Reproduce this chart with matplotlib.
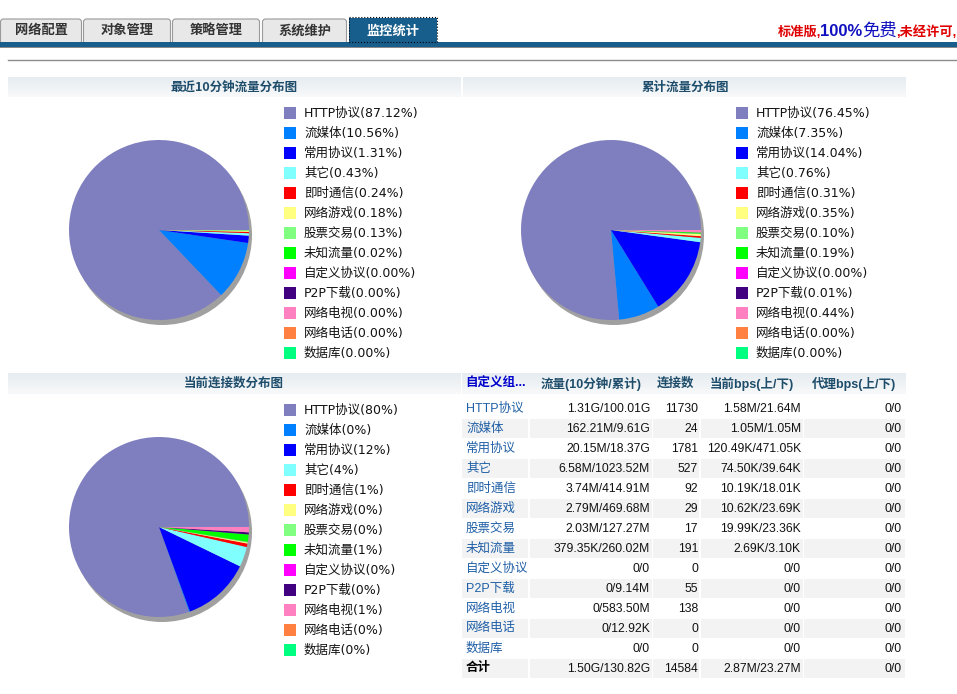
import numpy as np
import matplotlib
matplotlib.use("Agg")
import matplotlib.pyplot as plt
from matplotlib.patches import Rectangle, FancyBboxPatch, Circle

# ---------------- data ----------------
tabs = ["网络配置", "对象管理", "策略管理", "系统维护", "监控统计"]
categories = ["HTTP协议", "流媒体", "常用协议", "其它", "即时通信", "网络游戏", "股票交易",
              "未知流量", "自定义协议", "P2P下载", "网络电视", "网络电话", "数据库"]
colors = ["#7f7fbf", "#0080ff", "#0000ff", "#80ffff", "#ff0000", "#ffff80", "#80ff80",
          "#00ff00", "#ff00ff", "#400080", "#ff80c0", "#ff8040", "#00ff80"]
pct_recent = [87.12, 10.56, 1.31, 0.43, 0.24, 0.18, 0.13, 0.02, 0.00, 0.00, 0.00, 0.00, 0.00]
pct_total = [76.45, 7.35, 14.04, 0.76, 0.31, 0.35, 0.10, 0.19, 0.00, 0.01, 0.44, 0.00, 0.00]
conn_counts = [11730, 24, 1781, 527, 92, 29, 17, 191, 0, 55, 138, 0, 0]
flow_10min_total = ["1.31G/100.01G", "162.21M/9.61G", "20.15M/18.37G", "6.58M/1023.52M",
                    "3.74M/414.91M", "2.79M/469.68M", "2.03M/127.27M", "379.35K/260.02M",
                    "0/0", "0/9.14M", "0/583.50M", "0/12.92K", "0/0"]
bps_up_down = ["1.58M/21.64M", "1.05M/1.05M", "120.49K/471.05K", "74.50K/39.64K",
               "10.19K/18.01K", "10.62K/23.69K", "19.99K/23.36K", "2.69K/3.10K",
               "0/0", "0/0", "0/0", "0/0", "0/0"]
proxy_bps = ["0/0"] * 13
total_row = ["合计", "1.50G/130.82G", "14584", "2.87M/23.27M", "0/0"]
table_headers = ["自定义组...", "流量(10分钟/累计)", "连接数", "当前bps(上/下)", "代理bps(上/下)"]
chart_titles = ["最近10分钟流量分布图", "累计流量分布图", "当前连接数分布图"]

# ---------------- fonts ----------------
CJK = "Noto Sans CJK SC"
LEG_FONT = ["DejaVu Sans", CJK]
TAB_FONT = ["Liberation Sans", CJK]
plt.rcParams["font.family"] = ["DejaVu Sans", CJK]

W, H = 957, 694
fig = plt.figure(figsize=(W / 100, H / 100), dpi=100)
fig.patch.set_facecolor("white")
ax = fig.add_axes([0, 0, 1, 1])
ax.set_xlim(0, W)
ax.set_ylim(H, 0)
ax.axis("off")

TEAL = "#1e4d6b"
BLUE_BAR = "#175e8c"


def gradient_band(x0, x1, y0, y1, top="#e6ecf0", bottom="#f8f9fa"):
    c0 = np.array(matplotlib.colors.to_rgb(top))
    c1 = np.array(matplotlib.colors.to_rgb(bottom))
    t = np.linspace(0, 1, 32)[:, None, None]
    img = c0 * (1 - t) + c1 * t
    ax.imshow(img, extent=(x0, x1, y1, y0), aspect="auto", origin="upper",
              interpolation="bilinear", zorder=1)


# ---------------- tabs ----------------
tab_x = [(0, 82), (83, 171), (172, 260), (262, 347), (349, 437)]
for i, (lbl, (x0, x1)) in enumerate(zip(tabs, tab_x)):
    active = i == len(tabs) - 1
    if active:
        ax.add_patch(Rectangle((x0, 18), x1 - x0, 26, facecolor=BLUE_BAR,
                               edgecolor="none", zorder=2))
        ax.add_patch(Rectangle((x0, 17), x1 - x0, 25, facecolor="none",
                               edgecolor="black", lw=0.8, ls=":", zorder=4))
        ax.text((x0 + x1) / 2, 31, lbl, color="white", fontsize=9.5, fontweight="bold",
                ha="center", va="center", family=TAB_FONT, zorder=5)
    else:
        ax.add_patch(FancyBboxPatch((x0 + 0.5, 19), x1 - x0 - 1, 28,
                                    boxstyle="round,pad=0,rounding_size=3",
                                    facecolor="#e8e8e8", edgecolor="#9a9a9a", lw=0.8, zorder=2))
        ax.text((x0 + x1) / 2, 31, lbl, color="#333333", fontsize=9.5, fontweight="bold",
                ha="center", va="center", family=TAB_FONT, zorder=5)

ax.add_patch(Rectangle((0, 42), W, 4.5, facecolor=BLUE_BAR, edgecolor="none", zorder=3))
ax.add_patch(Rectangle((0, 46.5), W, 1.5, facecolor="#8a8a8a", edgecolor="none", zorder=3))
ax.plot([8, W], [60, 60], color="#8c8c8c", lw=1, zorder=3)

# top-right notice
ax.text(778, 32, "标准版,", color="#e00000", fontsize=9.5, fontweight="bold",
        ha="left", va="center", family=TAB_FONT, zorder=5)
ax.text(820, 31, "100%", color="#1010c0", fontsize=12, fontweight="bold",
        ha="left", va="center", family=TAB_FONT, zorder=5)
ax.text(862, 31, "免费", color="#1010c0", fontsize=12.5,
        ha="left", va="center", family=TAB_FONT, zorder=5)
ax.text(896, 32, ",未经许可,", color="#e00000", fontsize=9.5, fontweight="bold",
        ha="left", va="center", family=TAB_FONT, zorder=5)

# ---------------- section headers ----------------
gradient_band(8, 461, 77, 97)
gradient_band(463, 906, 77, 97)
gradient_band(8, 461, 373, 394)
ax.text(234, 87, chart_titles[0], color=TEAL, fontsize=9, fontweight="bold",
        ha="center", va="center", family=[CJK], zorder=5)
ax.text(685, 87, chart_titles[1], color=TEAL, fontsize=9, fontweight="bold",
        ha="center", va="center", family=[CJK], zorder=5)
ax.text(234, 383, chart_titles[2], color=TEAL, fontsize=9, fontweight="bold",
        ha="center", va="center", family=[CJK], zorder=5)


# ---------------- pies ----------------
def draw_pie(values, cx, cy, r=90, dx=3, dy=5):
    pad = 10
    R = r + pad
    pax = fig.add_axes([(cx - R) / W, 1 - (cy + R) / H, 2 * R / W, 2 * R / H])
    lim = R / r
    pax.set_xlim(-lim, lim)
    pax.set_ylim(-lim, lim)
    pax.set_aspect("equal")
    pax.axis("off")
    pax.add_patch(Circle((dx / r, -dy / r), 1.0, facecolor="#a0a0a0", edgecolor="none", zorder=0))
    vals = [v if v > 0 else 0.0 for v in values]
    pax.pie(vals, colors=colors, startangle=0, counterclock=True, radius=1.0,
            wedgeprops=dict(linewidth=0), frame=True)
    pax.set_xlim(-lim, lim)
    pax.set_ylim(-lim, lim)
    pax.axis("off")


draw_pie(pct_recent, 159, 230)
draw_pie(pct_total, 611, 230)
draw_pie(conn_counts, 159, 527)


# ---------------- legends ----------------
def draw_legend(x, y0, labels):
    for i, (lab, col) in enumerate(zip(labels, colors)):
        y = y0 + 20 * i
        ax.add_patch(Rectangle((x, y - 6), 12, 12, facecolor=col, edgecolor="none", zorder=4))
        ax.text(x + 20, y + 0.5, lab, color="#111111", fontsize=9, ha="left", va="center",
                family=LEG_FONT, zorder=5)


draw_legend(284, 113, [f"{c}({p:.2f}%)" for c, p in zip(categories, pct_recent)])
draw_legend(736, 113, [f"{c}({p:.2f}%)" for c, p in zip(categories, pct_total)])
conn_total = sum(conn_counts)
draw_legend(284, 410, [f"{c}({round(v / conn_total * 100)}%)" for c, v in zip(categories, conn_counts)])

# ---------------- table ----------------
col_bounds = [(462, 528), (530, 652), (653, 699), (701, 803), (804, 905)]
gradient_band(462, 906, 373, 394)
hdr_x = [465, 591, 676, 752, 854]
hdr_ha = ["left", "center", "center", "center", "center"]
for j, (h, hx, ha) in enumerate(zip(table_headers, hdr_x, hdr_ha)):
    ax.text(hx, 384, h, color="#0000cc" if j == 0 else TEAL, fontsize=9, fontweight="bold",
            ha=ha, va="center", family=TAB_FONT, zorder=5)

rows = [[c, f, str(n), b, p] for c, f, n, b, p in
        zip(categories, flow_10min_total, conn_counts, bps_up_down, proxy_bps)]
rows.append(total_row)
right_edges = [None, 650, 698, 801, 902]
for i, row in enumerate(rows):
    yc = 408 + 20 * i
    if i % 2 == 1:
        for (x0, x1) in col_bounds:
            ax.add_patch(Rectangle((x0, yc - 9.5), x1 - x0, 19, facecolor="#f3f3f3",
                                   edgecolor="none", zorder=2))
    is_total = i == len(rows) - 1
    ax.text(466, yc + 0.5, row[0], color="#000000" if is_total else "#1f5fa6",
            fontsize=9, fontweight="bold" if is_total else "normal",
            ha="left", va="center", family=TAB_FONT, zorder=5)
    for j in range(1, 5):
        ax.text(right_edges[j], yc + 0.5, row[j], color="#111111", fontsize=8.7,
                ha="right", va="center", family=TAB_FONT, zorder=5)

ax.set_xlim(0, W)
ax.set_ylim(H, 0)
fig.savefig("out.png", dpi=100, facecolor="white")
